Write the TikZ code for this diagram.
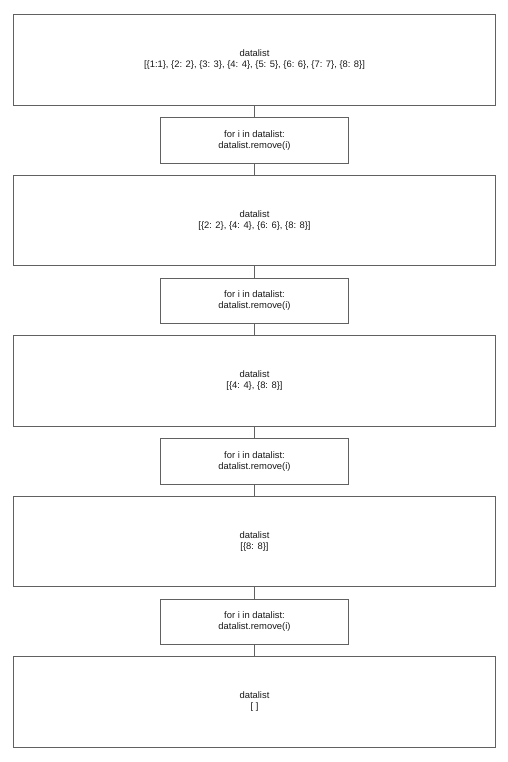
\documentclass[tikz,border=0pt]{standalone}
\usepackage{fontspec}
\setmainfont{Liberation Sans}
\begin{document}
\begin{tikzpicture}[x=1pt,y=-1pt,
  box/.style={draw=black!62, line width=0.9pt, fill=white, inner sep=0pt, align=center, font=\fontsize{9.4}{11}\selectfont, text=black!90},
  bigbox/.style={box, minimum width=482pt, minimum height=90.5pt},
  loopbox/.style={box, minimum width=188pt, minimum height=45.5pt},
  link/.style={draw=black!62, line width=0.8pt}]
\useasboundingbox (0,0) rectangle (507,762);
\node[bigbox] (d0) at (254.5,59.75) {datalist\\{}[\{1:1\}, \{2: 2\}, \{3: 3\}, \{4: 4\}, \{5: 5\}, \{6: 6\}, \{7: 7\}, \{8: 8\}]};
\node[loopbox] (l0) at (254.5,140.25) {for i in datalist:\\datalist.remove(i)};
\node[bigbox] (d1) at (254.5,220.25) {datalist\\{}[\{2: 2\}, \{4: 4\}, \{6: 6\}, \{8: 8\}]};
\node[loopbox] (l1) at (254.5,300.75) {for i in datalist:\\datalist.remove(i)};
\node[bigbox] (d2) at (254.5,380.75) {datalist\\{}[\{4: 4\}, \{8: 8\}]};
\node[loopbox] (l2) at (254.5,461.25) {for i in datalist:\\datalist.remove(i)};
\node[bigbox] (d3) at (254.5,541.25) {datalist\\{}[\{8: 8\}]};
\node[loopbox] (l3) at (254.5,621.75) {for i in datalist:\\datalist.remove(i)};
\node[bigbox] (d4) at (254.5,701.75) {datalist\\{}[ ]};
\draw[link] (d0) -- (l0) (l0) -- (d1) (d1) -- (l1) (l1) -- (d2) (d2) -- (l2) (l2) -- (d3) (d3) -- (l3) (l3) -- (d4);
\end{tikzpicture}
\end{document}
